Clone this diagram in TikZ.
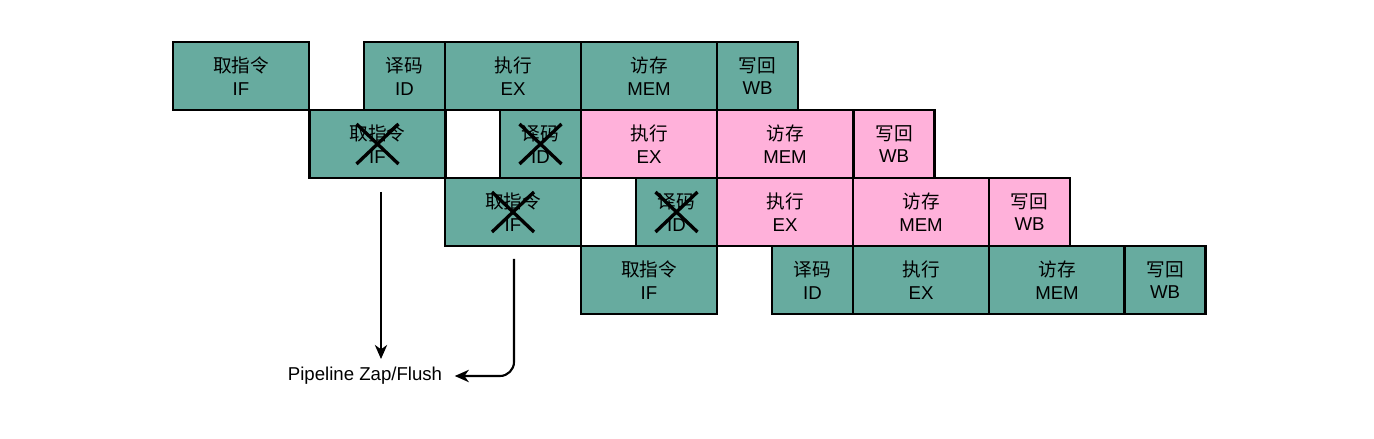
\documentclass[tikz,border=0pt]{standalone}
\usepackage{fontspec}
\setmainfont{Liberation Sans}
\newfontfamily\cjk{Noto Sans CJK SC}
\usetikzlibrary{arrows.meta}

\definecolor{stagegreen}{HTML}{67AB9F}
\definecolor{stagepink}{HTML}{FFB1DA}

\begin{document}
\begin{tikzpicture}[
    x=0.02cm, y=-0.02cm,
    font=\fontsize{10.6}{13}\selectfont,
    >={Stealth[length=8pt, width=7pt, inset=2.5pt]},
    stage/.style={draw, line width=1.2pt, minimum height=1.36cm, inner sep=0pt, align=center},
    wide/.style={stage, minimum width=2.72cm},
    narrow/.style={stage, minimum width=1.62cm},
    ok/.style={fill=stagegreen},
    stall/.style={fill=stagepink},
    xline/.style={line width=1.9pt},
    zap/.style={->, line width=1.2pt}
]
    \useasboundingbox (0,0) rectangle (1374,439);

    % instruction 1
    \node[wide, ok]   (if1)  at (241,76)    {{\cjk 取指令}\\IF};
    \node[narrow, ok] (id1)  at (404.5,76)  {{\cjk 译码}\\ID};
    \node[wide, ok]   (ex1)  at (513,76)    {{\cjk 执行}\\EX};
    \node[wide, ok]   (mem1) at (649,76)    {{\cjk 访存}\\MEM};
    \node[narrow, ok] (wb1)  at (757.5,76)  {{\cjk 写回}\\WB};

    % instruction 2
    \node[wide, ok]      (if2)  at (377.5,144) {{\cjk 取指令}\\IF};
    \node[narrow, ok]    (id2)  at (540.5,144) {{\cjk 译码}\\ID};
    \node[wide, stall]   (ex2)  at (649,144)   {{\cjk 执行}\\EX};
    \node[wide, stall]   (mem2) at (785,144)   {{\cjk 访存}\\MEM};
    \node[narrow, stall] (wb2)  at (894,144)   {{\cjk 写回}\\WB};

    % instruction 3
    \node[wide, ok]      (if3)  at (513,212)    {{\cjk 取指令}\\IF};
    \node[narrow, ok]    (id3)  at (676.5,212)  {{\cjk 译码}\\ID};
    \node[wide, stall]   (ex3)  at (785,212)    {{\cjk 执行}\\EX};
    \node[wide, stall]   (mem3) at (921,212)    {{\cjk 访存}\\MEM};
    \node[narrow, stall] (wb3)  at (1029.5,212) {{\cjk 写回}\\WB};

    % instruction 4
    \node[wide, ok]   (if4)  at (649,280)    {{\cjk 取指令}\\IF};
    \node[narrow, ok] (id4)  at (812.5,280)  {{\cjk 译码}\\ID};
    \node[wide, ok]   (ex4)  at (921,280)    {{\cjk 执行}\\EX};
    \node[wide, ok]   (mem4) at (1057,280)   {{\cjk 访存}\\MEM};
    \node[narrow, ok] (wb4)  at (1165,280)   {{\cjk 写回}\\WB};

    % flushed stages
    \foreach \n in {if2,id2,if3,id3} {
        \draw[xline] ([shift={(-21,-20)}]\n.center) -- ([shift={(21,20)}]\n.center);
        \draw[xline] ([shift={(-21,20)}]\n.center) -- ([shift={(21,-20)}]\n.center);
    }

    \node[inner sep=2pt] (flush) at (365,376) {Pipeline Zap/Flush};
    \coordinate (zap1) at (381,192);
    \coordinate (zap2) at (514,259);
    \draw[zap] (zap1) -- (zap1 |- 0,359);
    \draw[zap, rounded corners=8pt] (zap2) -- (zap2 |- flush.east) -- ([xshift=5]flush.east);
\end{tikzpicture}
\end{document}
